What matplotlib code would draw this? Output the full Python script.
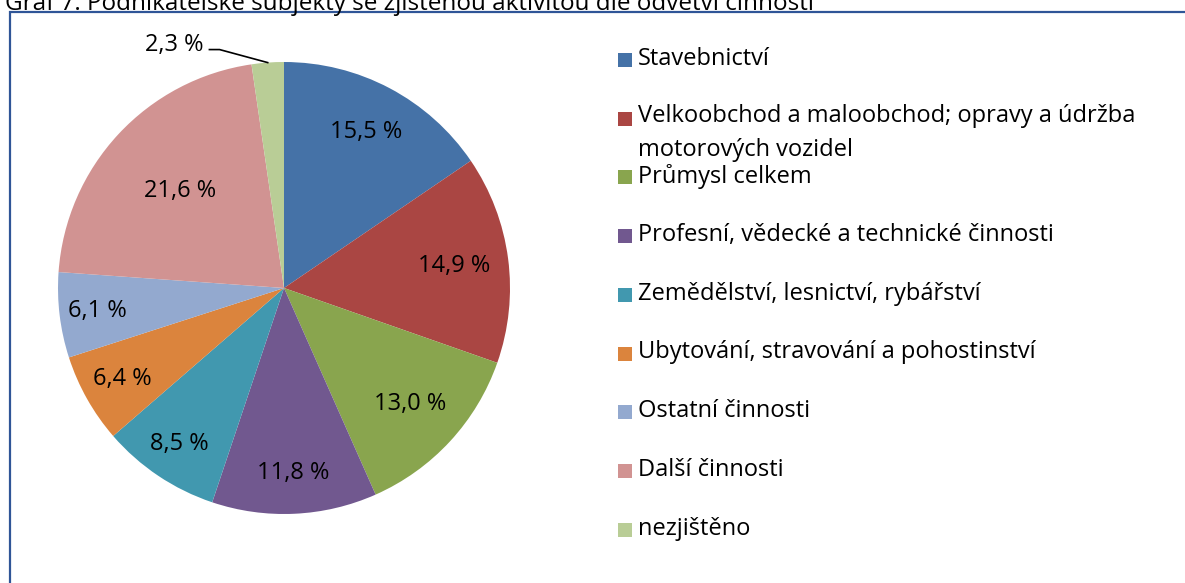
import numpy as np
import matplotlib.pyplot as plt
from matplotlib.patches import Rectangle

plt.rcParams['font.family'] = ['Open Sans', 'DejaVu Sans']

categories = ["Stavebnictví",
              "Velkoobchod a maloobchod; opravy a údržba\nmotorových vozidel",
              "Průmysl celkem",
              "Profesní, vědecké a technické činnosti",
              "Zemědělství, lesnictví, rybářství",
              "Ubytování, stravování a pohostinství",
              "Ostatní činnosti",
              "Další činnosti",
              "nezjištěno"]
shares = [15.5, 14.9, 13.0, 11.8, 8.5, 6.4, 6.1, 21.6, 2.3]
colors = ["#4572A7", "#AA4643", "#89A54E", "#71588F", "#4198AF",
          "#DB843D", "#93A9CF", "#D19392", "#B9CD96"]
# radial position of the value labels (Excel "best fit")
label_r = [0.78, 0.76, 0.76, 0.82, 0.83, 0.82, 0.83, 0.63]
title = "Graf 7: Podnikatelské subjekty se zjištěnou aktivitou dle odvětví činnosti"

W, H = 1185, 583
fig = plt.figure(figsize=(W / 100, H / 100), dpi=100)

# frame around the chart (only top and left visible)
fig.patches.append(Rectangle((10 / W, -0.05), 1.1, 1 - 12 / H + 0.05,
                             transform=fig.transFigure, fill=False,
                             edgecolor="#2F5597", linewidth=1.6))
# title, clipped by the top edge as in the source
fig.text(5 / W, 1 - 10 / H, title, fontsize=17.5, va='baseline', ha='left')

cx, cy, r = 284, 288, 226
ax = fig.add_axes([(cx - r) / W, (H - cy - r) / H, 2 * r / W, 2 * r / H])
wedges, _ = ax.pie(shares, colors=colors, startangle=90, counterclock=False,
                   radius=1, wedgeprops=dict(linewidth=0))
ax.set_xlim(-1, 1)
ax.set_ylim(-1, 1)
ax.set_aspect('equal')
ax.axis('off')

fs = 17
for w, v, lr in zip(wedges[:-1], shares[:-1], label_r):
    ang = np.deg2rad((w.theta1 + w.theta2) / 2)
    ax.text(lr * np.cos(ang), lr * np.sin(ang), f"{v:.1f} %".replace('.', ','),
            ha='center', va='center', fontsize=fs)

# small slice label outside with leader line
w = wedges[-1]
ang = np.deg2rad((w.theta1 + w.theta2) / 2)
ex, ey = np.cos(ang), np.sin(ang)
ax.plot([ex, -0.285, -0.33], [ey, 1.055, 1.055], color='black', lw=1.2, clip_on=False)
ax.text(-0.355, 1.075, f"{shares[-1]:.1f} %".replace('.', ','), ha='right', va='center',
        fontsize=fs)

# legend
y0, step = 60, 58.7
for i, (lab, c) in enumerate(zip(categories, colors)):
    y = y0 + i * step
    fig.patches.append(Rectangle((618 / W, 1 - (y + 7) / H), 14 / W, 14 / H,
                                 transform=fig.transFigure, facecolor=c, edgecolor='none'))
    if '\n' in lab:
        fig.text(638 / W, 1 - (y - 15) / H, lab, fontsize=fs, va='top', ha='left',
                 linespacing=1.6)
    else:
        fig.text(638 / W, 1 - (y - 1) / H, lab, fontsize=fs, va='center', ha='left')

fig.savefig("out.png", dpi=100)
